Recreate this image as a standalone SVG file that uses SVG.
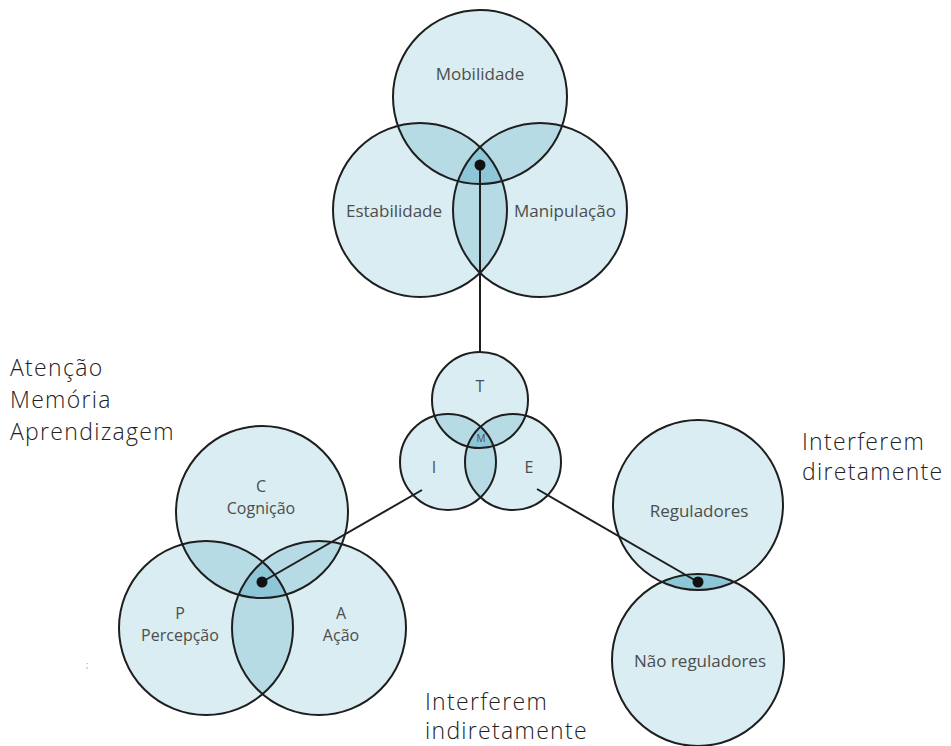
<svg xmlns="http://www.w3.org/2000/svg" width="951" height="746" viewBox="0 0 951 746">
<style>
.c1{fill:#d9edf2}
.c2{fill:#b7dbe5}
.c3{fill:#8dc6d7}
.ol{fill:none;stroke:#1e1e1e;stroke-width:2}
.lbl{font-family:"Open Sans","DejaVu Sans",sans-serif;font-size:17px;fill:#4d4d4d;text-anchor:middle}
.sm{font-size:16px}
.big{font-family:"Open Sans","DejaVu Sans",sans-serif;font-size:23px;font-weight:300;fill:#222;letter-spacing:1.3px}
.con{stroke:#1e1e1e;stroke-width:2;fill:none}
</style>
<defs>
<clipPath id="kMob"><circle cx="480" cy="97" r="87"/></clipPath>
<clipPath id="kEst"><circle cx="420" cy="210" r="87"/></clipPath>
<clipPath id="kT"><circle cx="480" cy="400" r="48"/></clipPath>
<clipPath id="kI"><circle cx="448" cy="462" r="48"/></clipPath>
<clipPath id="kC"><circle cx="262" cy="512" r="86"/></clipPath>
<clipPath id="kP"><circle cx="206" cy="628" r="87"/></clipPath>
<clipPath id="kR"><circle cx="698" cy="505" r="85"/></clipPath>
</defs>

<!-- Top Venn -->
<g id="venn-top">
<circle class="c1" cx="480" cy="97" r="87"/>
<circle class="c1" cx="420" cy="210" r="87"/>
<circle class="c1" cx="540" cy="210" r="87"/>
<circle class="c2" cx="420" cy="210" r="87" clip-path="url(#kMob)"/>
<circle class="c2" cx="540" cy="210" r="87" clip-path="url(#kMob)"/>
<circle class="c2" cx="540" cy="210" r="87" clip-path="url(#kEst)"/>
<g clip-path="url(#kMob)"><circle class="c3" cx="540" cy="210" r="87" clip-path="url(#kEst)"/></g>
<g id="mobilidade"><circle class="ol" cx="480" cy="97" r="87"/><text class="lbl" x="480" y="80">Mobilidade</text></g>
<g id="estabilidade"><circle class="ol" cx="420" cy="210" r="87"/><text class="lbl" x="394" y="217">Estabilidade</text></g>
<g id="manipulacao"><circle class="ol" cx="540" cy="210" r="87"/><text class="lbl" x="565" y="217">Manipulação</text></g>
</g>

<!-- Middle Venn -->
<g id="venn-mid">
<circle class="c1" cx="480" cy="400" r="48"/>
<circle class="c1" cx="448" cy="462" r="48"/>
<circle class="c1" cx="513" cy="462" r="48"/>
<circle class="c2" cx="448" cy="462" r="48" clip-path="url(#kT)"/>
<circle class="c2" cx="513" cy="462" r="48" clip-path="url(#kT)"/>
<circle class="c2" cx="513" cy="462" r="48" clip-path="url(#kI)"/>
<g clip-path="url(#kT)"><circle class="c3" cx="513" cy="462" r="48" clip-path="url(#kI)"/></g>
<g id="t"><circle class="ol" cx="480" cy="400" r="48"/><text class="lbl sm" x="480" y="392">T</text></g>
<g id="i"><circle class="ol" cx="448" cy="462" r="48"/><text class="lbl sm" x="434" y="473">I</text></g>
<g id="e"><circle class="ol" cx="513" cy="462" r="48"/><text class="lbl sm" x="529" y="473">E</text></g>
<text class="lbl" x="481" y="442" style="font-size:10px">M</text>
</g>

<!-- Bottom-left Venn -->
<g id="venn-left">
<circle class="c1" cx="262" cy="512" r="86"/>
<circle class="c1" cx="206" cy="628" r="87"/>
<circle class="c1" cx="319" cy="628" r="87"/>
<circle class="c2" cx="206" cy="628" r="87" clip-path="url(#kC)"/>
<circle class="c2" cx="319" cy="628" r="87" clip-path="url(#kC)"/>
<circle class="c2" cx="319" cy="628" r="87" clip-path="url(#kP)"/>
<g clip-path="url(#kC)"><circle class="c3" cx="319" cy="628" r="87" clip-path="url(#kP)"/></g>
<g id="cognicao"><circle class="ol" cx="262" cy="512" r="86"/><text class="lbl sm" x="261" y="492">C</text><text class="lbl sm" x="261" y="514">Cognição</text></g>
<g id="percepcao"><circle class="ol" cx="206" cy="628" r="87"/><text class="lbl sm" x="180" y="619">P</text><text class="lbl sm" x="180" y="641">Percepção</text></g>
<g id="acao"><circle class="ol" cx="319" cy="628" r="87"/><text class="lbl sm" x="341" y="619">A</text><text class="lbl sm" x="341" y="641">Ação</text></g>
</g>

<!-- Right pair -->
<g id="venn-right">
<circle class="c1" cx="698" cy="505" r="85"/>
<circle class="c1" cx="698" cy="660" r="86"/>
<circle class="c3" cx="698" cy="660" r="86" clip-path="url(#kR)"/>
<g id="reguladores"><circle class="ol" cx="698" cy="505" r="85"/><text class="lbl" x="699" y="517">Reguladores</text></g>
<g id="nao-reguladores"><circle class="ol" cx="698" cy="660" r="86"/><text class="lbl" x="700" y="667">Não reguladores</text></g>
</g>

<g id="connectors">
<line class="con" x1="480" y1="165" x2="480" y2="352"/>
<line class="con" x1="422" y1="490" x2="262" y2="582"/>
<line class="con" x1="537" y1="489" x2="698" y2="582"/>
<circle cx="480" cy="165" r="5.5" fill="#111"/>
<circle cx="262" cy="582" r="5.5" fill="#111"/>
<circle cx="698" cy="582" r="5.5" fill="#111"/>
</g>

<g id="labels">
<text class="big" x="10" y="376">Atenção</text>
<text class="big" x="10" y="408">Memória</text>
<text class="big" x="10" y="440">Aprendizagem</text>
<text class="big" x="802" y="450">Interferem</text>
<text class="big" x="802" y="480">diretamente</text>
<text class="big" x="425" y="710">Interferem</text>
<text class="big" x="425" y="739">indiretamente</text>
<text x="86" y="668" style="font-family:'Open Sans',sans-serif;font-size:9px;fill:#999">;</text>
</g>
</svg>
